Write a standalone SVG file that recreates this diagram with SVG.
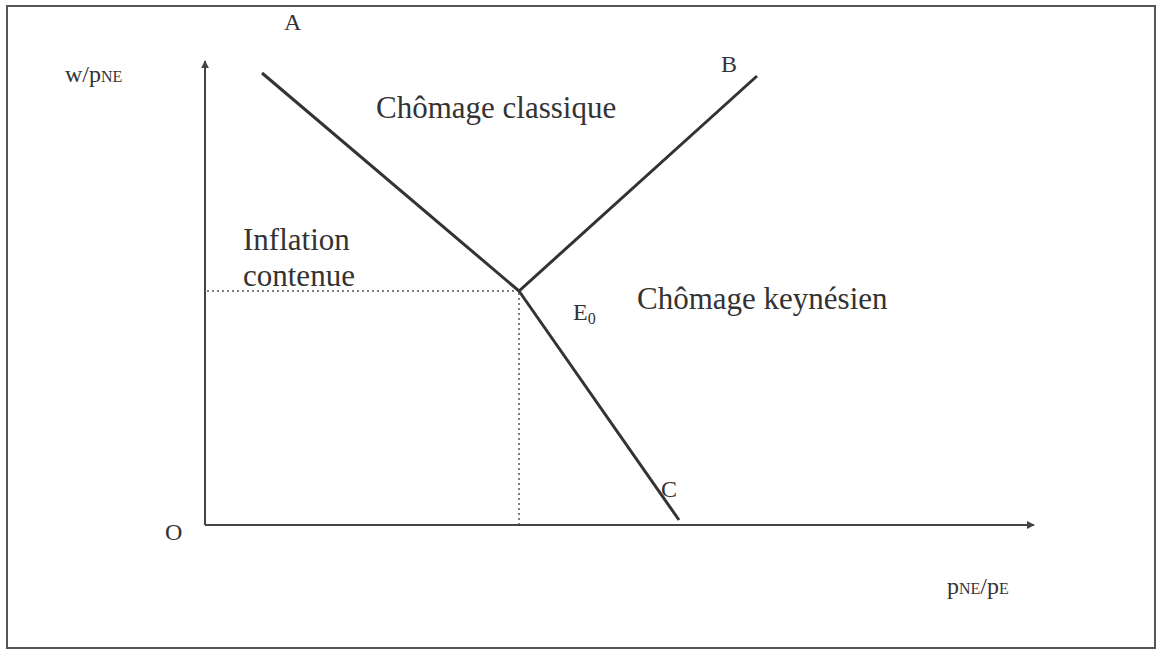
<svg xmlns="http://www.w3.org/2000/svg" width="1157" height="651" viewBox="0 0 1157 651">
<defs>
<style>
.t{font-family:"Liberation Serif","Times New Roman",serif;fill:#333;}
.big{font-size:31px;}
.sm{font-size:24px;}
.sub{font-size:16px;}
.ln{stroke:#333;stroke-width:3;fill:none;}
.ax{stroke:#444;stroke-width:2;fill:none;}
.dot{stroke:#555;stroke-width:1.5;stroke-dasharray:2,3;fill:none;}
</style>
<marker id="arr" viewBox="0 0 10 10" refX="9" refY="5" markerWidth="8" markerHeight="8" markerUnits="userSpaceOnUse" orient="auto">
<path d="M0,0 L10,5 L0,10 z" fill="#444"/>
</marker>
</defs>
<rect width="1157" height="651" fill="#fff"/>
<rect x="7" y="6" width="1148" height="642" fill="none" stroke="#555" stroke-width="2"/>
<g id="connectors">
<line class="ax" x1="205" y1="525" x2="205" y2="61" marker-end="url(#arr)"/>
<line class="ax" x1="205" y1="525" x2="1034" y2="525" marker-end="url(#arr)"/>
<polyline class="ln" points="262,73 519,291 757,76"/>
<line class="ln" x1="519" y1="291" x2="679" y2="520"/>
<line class="dot" x1="207" y1="291" x2="517" y2="291"/>
<line class="dot" x1="519" y1="293" x2="519" y2="524"/>
</g>
<g id="labels">
<text class="t sm" x="65" y="82">w/p<tspan class="sub">NE</tspan></text>
<text class="t sm" x="284" y="30">A</text>
<text class="t sm" x="721" y="72">B</text>
<text class="t big" x="376" y="118">Chômage classique</text>
<text class="t big" x="243" y="250">Inflation</text>
<text class="t big" x="243" y="286">contenue</text>
<text class="t big" x="637" y="309">Chômage keynésien</text>
<text class="t sm" x="573" y="320">E<tspan class="sub" dy="4">0</tspan></text>
<text class="t sm" x="661" y="497">C</text>
<text class="t sm" x="165" y="540">O</text>
<text class="t sm" x="947" y="594">p<tspan class="sub">NE</tspan>/p<tspan class="sub">E</tspan></text>
</g>
</svg>
